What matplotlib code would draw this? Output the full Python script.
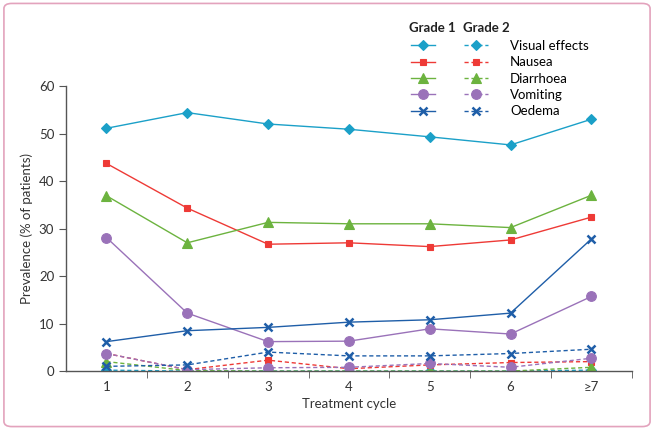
import numpy as np
import matplotlib
matplotlib.use('Agg')
import matplotlib.pyplot as plt
from matplotlib.patches import FancyBboxPatch

# ── data ─────────────────────────────────────────────────────────────────────
cycles = ['1', '2', '3', '4', '5', '6', '≥7']
names = ['Visual effects', 'Nausea', 'Diarrhoea', 'Vomiting', 'Oedema']

visual_g1 = [51.1, 54.4, 52.0, 50.9, 49.3, 47.6, 53.0]
nausea_g1 = [43.7, 34.3, 26.7, 27.0, 26.2, 27.6, 32.4]
diarr_g1 = [36.9, 27.0, 31.3, 31.0, 31.0, 30.2, 37.0]
vomit_g1 = [28.1, 12.2, 6.2, 6.3, 8.9, 7.8, 15.7]
oedema_g1 = [6.2, 8.5, 9.2, 10.3, 10.8, 12.2, 27.8]

visual_g2 = [0.2, 0.0, 0.0, 0.0, 0.0, 0.0, 0.2]
nausea_g2 = [3.7, 0.3, 2.3, 0.5, 1.3, 1.8, 2.0]
diarr_g2 = [2.0, 0.1, 0.0, 0.0, 0.0, 0.0, 0.8]
vomit_g2 = [3.7, 0.3, 0.7, 0.8, 1.6, 0.8, 2.7]
oedema_g2 = [1.0, 1.3, 4.0, 3.2, 3.2, 3.7, 4.6]

# ── styles ───────────────────────────────────────────────────────────────────
colors = ['#1ba0c8', '#ee3a36', '#6cb33f', '#9a72b9', '#1f5ea8']
markers = ['D', 's', '^', 'o', 'x']
msizes = [5.5, 5, 6.5, 7, 6]
g1 = [visual_g1, nausea_g1, diarr_g1, vomit_g1, oedema_g1]
g2 = [visual_g2, nausea_g2, diarr_g2, vomit_g2, oedema_g2]

plt.rcParams['font.family'] = ['Lato', 'DejaVu Sans']
axis_col = '#555555'
text_col = '#333333'
fs = 9.5

fig = plt.figure(figsize=(6.54, 4.30), dpi=100)
ax = fig.add_axes([0.101, 0.137, 0.865, 0.663])

x = np.arange(1, len(cycles) + 1)

h1, h2 = [], []
for i in range(len(names)):
    mew = 1.8 if markers[i] == 'x' else 0.8
    l2, = ax.plot(x, g2[i], color=colors[i], ls=(0, (3, 2)), lw=1,
                  marker=markers[i], ms=msizes[i], mew=mew, zorder=2)
    l1, = ax.plot(x, g1[i], color=colors[i], ls='-', lw=1,
                  marker=markers[i], ms=msizes[i], mew=mew, zorder=3)
    h1.append(l1)
    h2.append(l2)

ax.set_xlim(0.5, len(cycles) + 0.5)
ax.set_ylim(0, 60)
ax.set_yticks(np.arange(0, 61, 10))
ax.set_xticks(x)
ax.set_xticklabels(cycles)
ax.set_xticks(x + 0.5, minor=True)
ax.tick_params(axis='x', which='major', length=0, pad=7)
ax.tick_params(axis='x', which='minor', length=5, direction='out', color=axis_col)
ax.tick_params(axis='y', length=5, color=axis_col)
ax.tick_params(labelsize=fs, labelcolor=text_col)

for s in ['top', 'right']:
    ax.spines[s].set_visible(False)
for s in ['left', 'bottom']:
    ax.spines[s].set_color(axis_col)
    ax.spines[s].set_linewidth(1)

ax.set_ylabel('Prevalence (% of patients)', fontsize=fs, color=text_col)
ax.set_xlabel('Treatment cycle', fontsize=fs, color=text_col, labelpad=4)

# legend: Grade 1 column (no labels), Grade 2 column with names
ax.legend(h1 + h2, [''] * len(names) + names, ncol=2,
          loc='upper left', bbox_to_anchor=(0.60, 1.18),
          frameon=False, fontsize=fs, handlelength=1.8,
          columnspacing=0.6, handletextpad=1.66, labelspacing=0.33,
          borderaxespad=0)
fig.text(0.626, 0.935, 'Grade 1', fontsize=fs, fontweight='bold',
         color='#222222', va='center')
fig.text(0.708, 0.935, 'Grade 2', fontsize=fs, fontweight='bold',
         color='#222222', va='center')

# pink page frame
frame = FancyBboxPatch((0.006, 0.008), 0.988, 0.984, transform=fig.transFigure,
                       boxstyle='round,pad=0,rounding_size=0.012',
                       fc='none', ec='#e3a3bd', lw=1.2)
fig.patches.append(frame)

fig.savefig('out.png', dpi=100)
